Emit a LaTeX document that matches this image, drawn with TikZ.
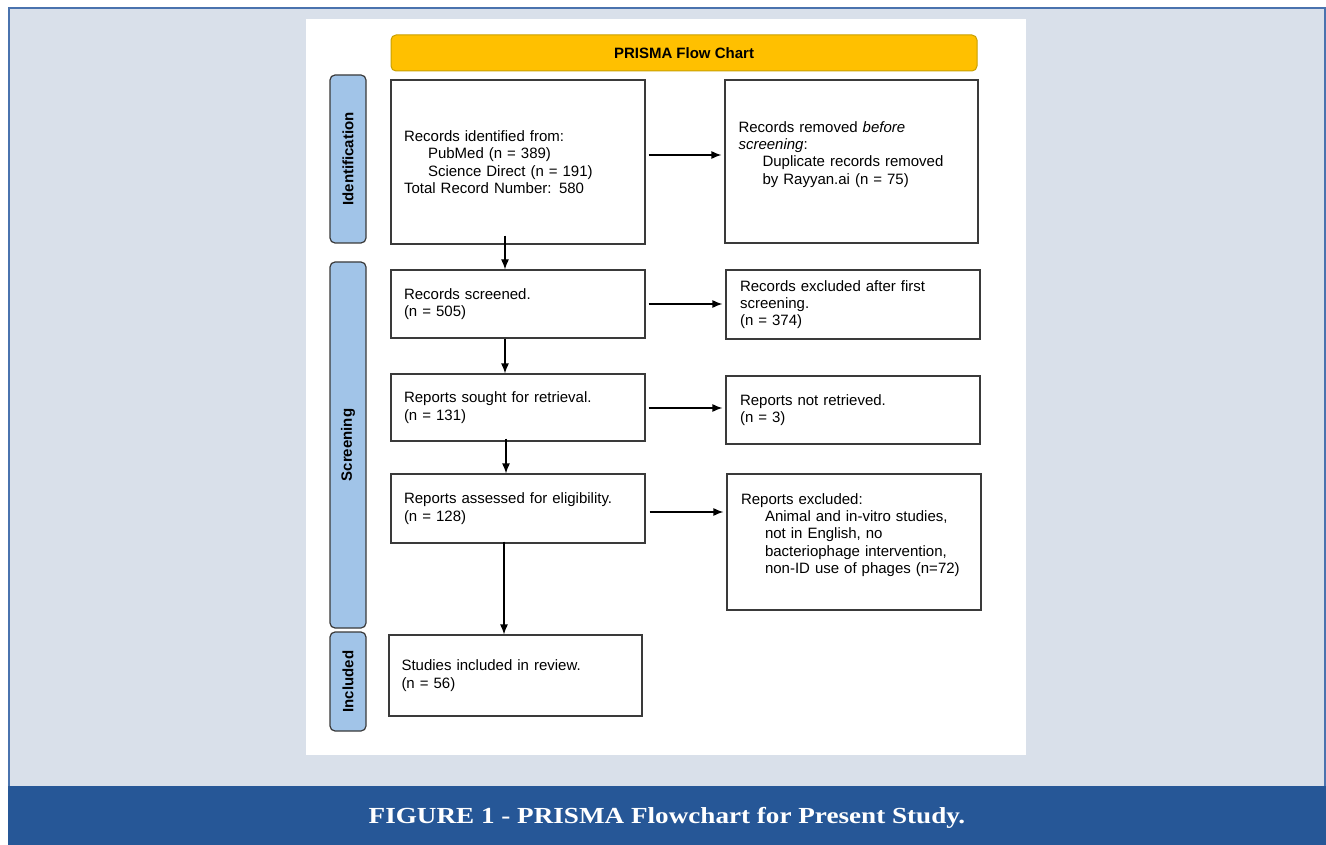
\documentclass[tikz,border=0pt]{standalone}
\usepackage{fontspec}
\setmainfont{Liberation Sans}
\newfontfamily\capfont{Liberation Serif}
\usetikzlibrary{arrows.meta}

\definecolor{pagebg}{HTML}{D9E0EA}
\definecolor{framebl}{HTML}{4A73AE}
\definecolor{bandbl}{HTML}{265797}
\definecolor{titlegold}{HTML}{FFC000}
\definecolor{titleedge}{HTML}{C9A000}
\definecolor{phasebl}{HTML}{A1C4E8}
\definecolor{boxedge}{HTML}{3A3A3A}

\tikzset{
    stagebox/.style={draw=boxedge, line width=1.2pt, fill=white, align=left,
        inner sep=0pt, text width=#1, font=\fontsize{15}{17.3}\selectfont},
    phase/.style={draw=boxedge, line width=1.2pt, fill=phasebl, rounded corners=5pt,
        minimum height=36pt, font=\bfseries\fontsize{15}{17}\selectfont, rotate=90},
    flow/.style={-{Latex[length=10pt, width=8pt]}, line width=1.2pt}
}

\begin{document}
\begin{tikzpicture}[x=1pt, y=-1pt]

\useasboundingbox (0,0) rectangle (1326,845);
\fill[white] (0,0) rectangle (1326,845);

% page frame
\draw[fill=pagebg, draw=framebl, line width=1.6pt] (8.8,7.8) rectangle (1325,790);
\fill[bandbl] (8,786) rectangle (1326,845);
\node[text=white, xscale=1.18, transform shape, font=\capfont\bfseries\fontsize{23}{26}\selectfont]
    (cap) at (667,818) {FIGURE 1 - PRISMA Flowchart for Present Study.};

\fill[white] (306,19) rectangle (1026,755);

% title
\node[draw=titleedge, line width=1pt, fill=titlegold, rounded corners=5pt,
      minimum width=586pt, minimum height=36pt, font=\bfseries\fontsize{15}{17}\selectfont]
      (title) at (684,53) {PRISMA Flow Chart};

% phases
\node[phase, minimum width=168pt] (ident) at (348,159) {Identification};
\node[phase, minimum width=366pt] (screen) at (348,445) {Screening};
\node[phase, minimum width=99pt] (incl) at (348,681.5) {Included};

% left column
\node[stagebox=228pt, minimum width=254pt, minimum height=164pt] (rec) at (518,162)
    {Records identified from:\\\hspace*{24pt}PubMed (n = 389)\\\hspace*{24pt}Science Direct (n = 191)\\Total Record Number: 580};
\node[stagebox=228pt, minimum width=254pt, minimum height=68pt] (scr) at (518,304)
    {Records screened.\\(n = 505)};
\node[stagebox=228pt, minimum width=254pt, minimum height=67pt] (sought) at (518,407.5)
    {Reports sought for retrieval.\\(n = 131)};
\node[stagebox=228pt, minimum width=254pt, minimum height=69pt] (elig) at (518,508.5)
    {Reports assessed for eligibility.\\(n = 128)};
\node[stagebox=228pt, minimum width=253pt, minimum height=81pt] (incld) at (515.5,675.5)
    {Studies included in review.\\(n = 56)};

% right column
\node[stagebox=226pt, minimum width=253pt, minimum height=163pt] (removed) at (851.5,161.5)
    {Records removed \textit{before}\\\textit{screening}:\\\hspace*{24pt}Duplicate records removed\\\hspace*{24pt}by Rayyan.ai (n = 75)\\\mbox{}};
\node[stagebox=226pt, minimum width=254pt, minimum height=69pt] (excl) at (853,304.5)
    {Records excluded after first\\screening.\\(n = 374)};
\node[stagebox=226pt, minimum width=254pt, minimum height=68pt] (notret) at (853,410)
    {Reports not retrieved.\\(n = 3)};
\node[stagebox=226pt, minimum width=254pt, minimum height=136pt] (repex) at (854,542)
    {Reports excluded:\\\hspace*{24pt}Animal and in-vitro studies,\\\hspace*{24pt}not in English, no\\\hspace*{24pt}bacteriophage intervention,\\\hspace*{24pt}non-ID use of phages (n=72)\\\mbox{}};

% arrows
\draw[flow, shorten <=-9pt] ([xshift=-13pt]rec.south) -- ([xshift=-13pt]rec.south |- scr.north);
\draw[flow] ([xshift=-13pt]scr.south) -- ([xshift=-13pt]scr.south |- sought.north);
\draw[flow, shorten <=-3pt] ([xshift=-12pt]sought.south) -- ([xshift=-12pt]sought.south |- elig.north);
\draw[flow, shorten <=-2pt] ([xshift=-14pt]elig.south) -- ([xshift=-14pt]elig.south |- incld.north);

\draw[flow, shorten <=3pt, shorten >=3pt] ([yshift=7pt]rec.east) -- ([yshift=7pt]rec.east -| removed.west);
\draw[flow, shorten <=3pt, shorten >=3pt] (scr.east) -- (scr.east -| excl.west);
\draw[flow, shorten <=3pt, shorten >=3pt] ([yshift=-0.5pt]sought.east) -- ([yshift=-0.5pt]sought.east -| notret.west);
\draw[flow, shorten <=4pt, shorten >=3pt] ([yshift=-3.5pt]elig.east) -- ([yshift=-3.5pt]elig.east -| repex.west);

\end{tikzpicture}
\end{document}
